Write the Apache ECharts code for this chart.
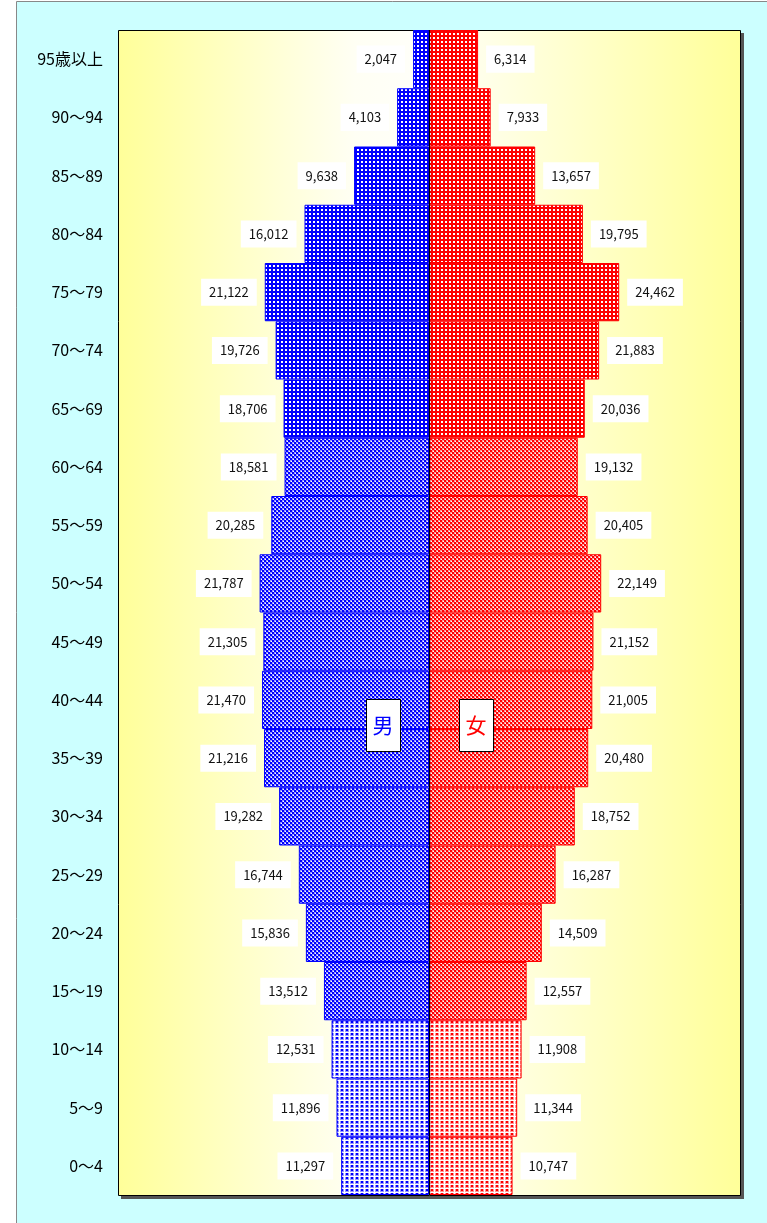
<!DOCTYPE html>
<html>
<head>
<meta charset="utf-8">
<script src="https://cdn.jsdelivr.net/npm/echarts@6/dist/echarts.min.js"></script>
<style>
  html, body { margin: 0; padding: 0; background: #fff; }
  #container { width: 767px; height: 1223px; }
</style>
</head>
<body>
<div id="container"></div>
<script>
// age groups, top to bottom
let ages = ['95歳以上', '90～94', '85～89', '80～84', '75～79', '70～74', '65～69',
            '60～64', '55～59', '50～54', '45～49', '40～44', '35～39', '30～34',
            '25～29', '20～24', '15～19', '10～14', '5～9', '0～4'];
let male = [2047, 4103, 9638, 16012, 21122, 19726, 18706, 18581, 20285, 21787,
            21305, 21470, 21216, 19282, 16744, 15836, 13512, 12531, 11896, 11297];
let female = [6314, 7933, 13657, 19795, 24462, 21883, 20036, 19132, 20405, 22149,
              21152, 21005, 20480, 18752, 16287, 14509, 12557, 11908, 11344, 10747];

// pattern group for each age band: 0 = 65+, 1 = 15-64, 2 = 0-14
function group(i) {
    if (i <= 6) return 0;
    if (i <= 16) return 1;
    return 2;
}

function makeTile(color, light, kind) {
    let c = document.createElement('canvas');
    let g = c.getContext('2d');
    if (kind === 0) {
        c.width = 4; c.height = 4;
        g.fillStyle = color; g.fillRect(0, 0, 4, 4);
        g.fillStyle = '#fff'; g.fillRect(1, 1, 2, 2);
    } else if (kind === 1) {
        c.width = 4; c.height = 4;
        g.fillStyle = '#fff'; g.fillRect(0, 0, 4, 4);
        g.fillStyle = light; g.fillRect(2, 0, 2, 2); g.fillRect(0, 2, 2, 2);
        g.fillStyle = color; g.fillRect(0, 0, 2, 2); g.fillRect(2, 2, 2, 2);
        g.fillStyle = '#fff'; g.fillRect(3, 1, 1, 1); g.fillRect(1, 3, 1, 1);
    } else {
        c.width = 5; c.height = 4;
        g.fillStyle = '#fff'; g.fillRect(0, 0, 5, 4);
        g.fillStyle = light; g.fillRect(0, 1, 4, 3);
        g.fillStyle = color; g.fillRect(1, 1, 2, 2);
    }
    return {image: c, repeat: 'repeat'};
}

let bluePat = [0, 1, 2].map((k) => makeTile('#0000ff', '#9999ff', k));
let redPat = [0, 1, 2].map((k) => makeTile('#ff0000', '#ff9999', k));

function fmt(v) {
    return String(Math.abs(v)).replace(/\B(?=(\d{3})+(?!\d))/g, ',');
}

let labelBase = {
    show: true,
    distance: 8,
    color: '#111',
    fontSize: 13,
    fontFamily: 'Noto Sans CJK JP',
    backgroundColor: '#fff',
    padding: [7, 8],
    formatter: (p) => fmt(p.value)
};

let gridLeft = 118, gridTop = 30, gridW = 622, gridH = 1165;

let gradient = {
    type: 'linear', x: 0, y: 0, x2: 1, y2: 0,
    colorStops: [
        {offset: 0, color: '#ffff99'},
        {offset: 0.38, color: '#fffff4'},
        {offset: 0.5, color: '#fffffa'},
        {offset: 1, color: '#ffff99'}
    ]
};

let dom = document.getElementById('container');
let chart = echarts.init(dom);

chart.setOption({
    backgroundColor: '#fff',
    animation: false,
    grid: {
        left: gridLeft, top: gridTop, width: gridW, height: gridH,
        show: false
    },
    xAxis: {
        type: 'value',
        min: -40000,
        max: 40000,
        show: false
    },
    yAxis: {
        type: 'category',
        data: ages,
        inverse: true,
        axisLine: {show: false, onZero: false},
        axisTick: {show: false},
        axisLabel: {
            margin: 15,
            fontSize: 16,
            color: '#000',
            fontFamily: 'Noto Sans CJK JP'
        }
    },
    series: [
        {
            name: '男',
            type: 'bar',
            stack: 'pop',
            barCategoryGap: 0,
            data: male.map((v, i) => ({
                value: -v,
                itemStyle: {color: bluePat[group(i)]}
            })),
            itemStyle: {borderColor: '#0000ff', borderWidth: 1},
            label: Object.assign({position: 'left'}, labelBase)
        },
        {
            name: '女',
            type: 'bar',
            stack: 'pop',
            barCategoryGap: 0,
            data: female.map((v, i) => ({
                value: v,
                itemStyle: {color: redPat[group(i)]}
            })),
            itemStyle: {borderColor: '#ff0000', borderWidth: 1},
            label: Object.assign({position: 'right'}, labelBase)
        }
    ]
});

// black centre line at value 0, drawn over the bar borders
let cx = chart.convertToPixel({xAxisIndex: 0}, 0);
if (!isFinite(cx)) cx = gridLeft + gridW / 2;
cx = Math.round(cx) + 0.5;

chart.setOption({
    graphic: [
        {type: 'rect', z: -10, silent: true, shape: {x: 16.5, y: 1.5, width: 800, height: 1300},
         style: {fill: '#ccffff', stroke: '#888', lineWidth: 1}},
        // plot frame shadow, then plot frame
        {type: 'rect', z: -6, silent: true, shape: {x: gridLeft + 3, y: gridTop + 3, width: gridW + 1, height: gridH + 1},
         style: {fill: '#555'}},
        {type: 'rect', z: -5, silent: true, shape: {x: gridLeft + 0.5, y: gridTop + 0.5, width: gridW, height: gridH},
         style: {stroke: '#000', lineWidth: 1, fill: gradient}},
        {type: 'line', z: 50, silent: true, shape: {x1: cx, y1: gridTop, x2: cx, y2: gridTop + gridH},
         style: {stroke: '#000', lineWidth: 1.2}},
        {type: 'rect', z: 100, shape: {x: 366.5, y: 699.5, width: 34, height: 52},
         style: {fill: '#fff', stroke: '#000', lineWidth: 1}},
        {type: 'text', z: 101, x: 383, y: 725,
         style: {text: '男', fill: '#0000ff', fontSize: 21, fontFamily: 'Noto Sans CJK JP',
                 align: 'center', verticalAlign: 'middle'}},
        {type: 'rect', z: 100, shape: {x: 459.5, y: 699.5, width: 34, height: 52},
         style: {fill: '#fff', stroke: '#000', lineWidth: 1}},
        {type: 'text', z: 101, x: 476, y: 725,
         style: {text: '女', fill: '#ff0000', fontSize: 21, fontFamily: 'Noto Sans CJK JP',
                 align: 'center', verticalAlign: 'middle'}}
    ]
});
</script>
</body>
</html>
